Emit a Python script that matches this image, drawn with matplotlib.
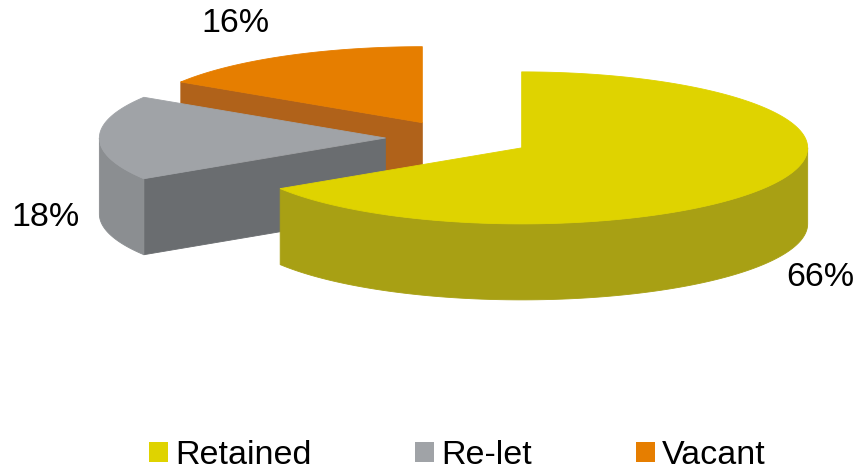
import numpy as np
import matplotlib.pyplot as plt
from matplotlib.patches import Polygon, Patch

plt.rcParams['font.family'] = ['Liberation Sans', 'DejaVu Sans']

# share of units by outcome
labels = ['Retained', 'Re-let', 'Vacant']
shares = [66, 18, 16]
pct_text = ['66%', '18%', '16%']

top_colors = ['#dfd300', '#a0a3a7', '#e67e00']
side_colors = ['#a8a014', '#8b8e91', '#b0621a']
wall_colors = ['#a8a014', '#6a6d70', '#b0621a']
explode = [0.27, 0.24, 0.23]

# pie geometry in pixel units (y grows downwards)
cx, cy = 454, 138
rx, ry, depth = 286, 76, 76
label_pos = [(820, 278), (45, 218), (235, 23)]


def rim(theta, ox, oy, dz=0):
    # clockwise from 12 o'clock
    return ox + rx * np.sin(theta), oy - ry * np.cos(theta) + dz


fig = plt.figure(figsize=(8.58, 4.72), dpi=100)
ax = fig.add_axes([0, 0, 1, 1])
ax.set_xlim(0, 858)
ax.set_ylim(472, 0)
ax.axis('off')

fracs = np.array(shares, dtype=float) / sum(shares)
bounds = np.concatenate([[0], np.cumsum(fracs)]) * 2 * np.pi

slices = []
for i in range(len(shares)):
    s, e = bounds[i], bounds[i + 1]
    m = 0.5 * (s + e)
    ox = cx + explode[i] * rx * np.sin(m)
    oy = cy - explode[i] * ry * np.cos(m)
    slices.append((s, e, ox, oy))

# back slices first so the front ones cover them
for i in reversed(range(len(shares))):
    s, e, ox, oy = slices[i]
    kw = dict(lw=0.6, joinstyle='round')

    # flat cut faces
    if np.sin(s) < -1e-6:
        px, py = rim(s, ox, oy)
        quad = [(ox, oy), (px, py), (px, py + depth), (ox, oy + depth)]
        ax.add_patch(Polygon(quad, fc=wall_colors[i], ec=wall_colors[i], **kw))
    if np.sin(e) > 1e-6:
        px, py = rim(e, ox, oy)
        quad = [(ox, oy), (px, py), (px, py + depth), (ox, oy + depth)]
        ax.add_patch(Polygon(quad, fc=wall_colors[i], ec=wall_colors[i], **kw))

    # curved outer wall, front half only
    a0, a1 = max(s, np.pi / 2), min(e, 3 * np.pi / 2)
    if a1 > a0:
        t = np.linspace(a0, a1, 120)
        xs, ys = rim(t, ox, oy)
        pts = list(zip(xs, ys)) + list(zip(xs[::-1], ys[::-1] + depth))
        ax.add_patch(Polygon(pts, fc=side_colors[i], ec=side_colors[i], **kw))

    # top face
    t = np.linspace(s, e, 200)
    xs, ys = rim(t, ox, oy)
    pts = [(ox, oy)] + list(zip(xs, ys))
    ax.add_patch(Polygon(pts, fc=top_colors[i], ec=top_colors[i], **kw))

for txt, (lx, ly) in zip(pct_text, label_pos):
    ax.text(lx, ly, txt, fontsize=24.5, ha='center', va='center', color='black')

handles = [Patch(fc=c, ec='none') for c in top_colors]
fig.legend(handles, labels, loc='lower center', ncol=3, frameon=False,
           fontsize=24.5, handlelength=0.56, handleheight=0.56,
           handletextpad=0.2, columnspacing=3.05,
           bbox_to_anchor=(0.533, -0.063))

fig.savefig('out.png', dpi=100)
